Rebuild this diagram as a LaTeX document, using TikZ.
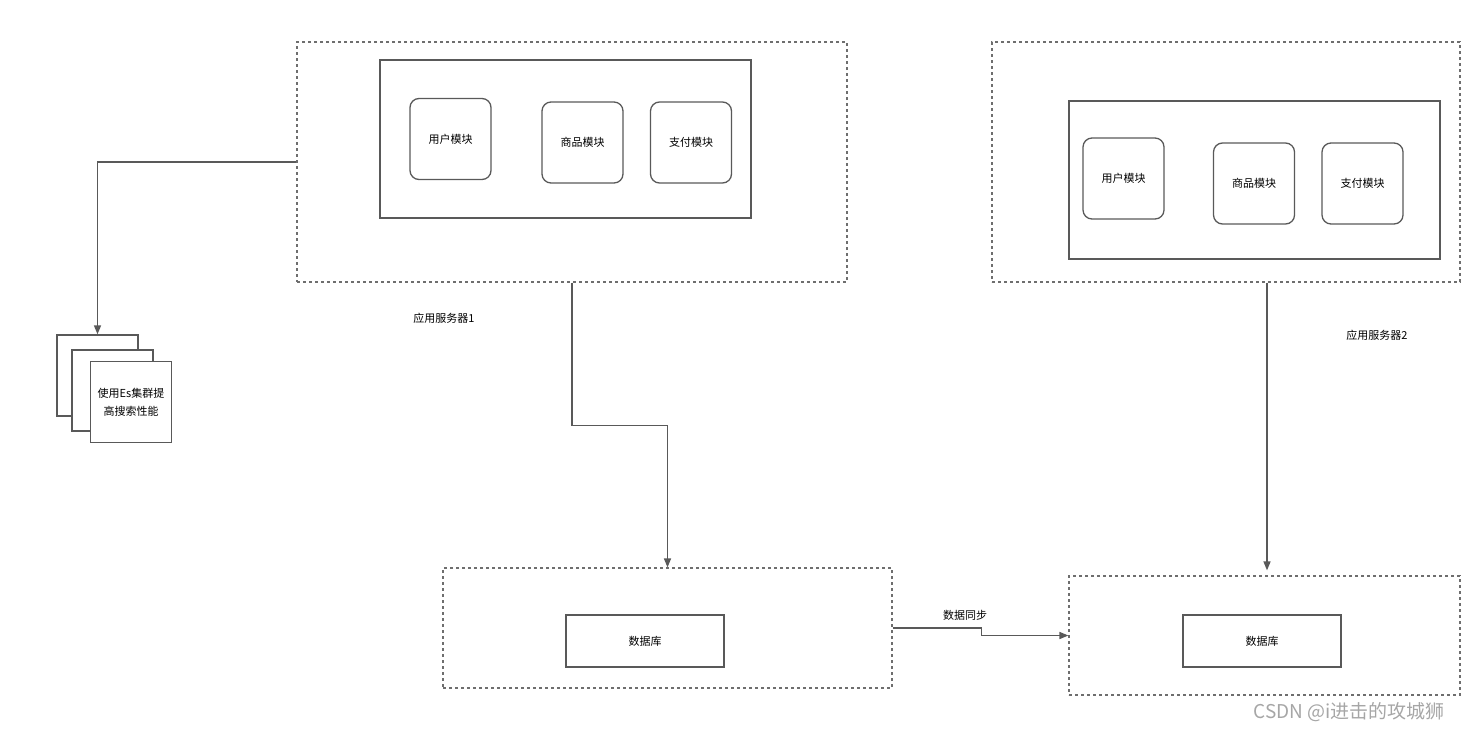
\documentclass[tikz,border=0pt]{standalone}
\usepackage{fontspec}
\setmainfont{Noto Sans CJK SC}
\usetikzlibrary{arrows.meta,positioning,calc}
\definecolor{lnc}{HTML}{595959}
\definecolor{dsc}{HTML}{6E6E6E}
\tikzset{
  srvbox/.style={draw=dsc,line width=1.2pt,dash pattern=on 3pt off 3pt,inner sep=0pt},
  solidbox/.style={draw=lnc,line width=1.3pt,inner sep=0pt},
  modblk/.style={solidbox,rounded corners=9pt,minimum width=81pt,minimum height=81pt,font=\fontsize{11}{13}\selectfont},
  docblk/.style={solidbox,fill=white,minimum width=81pt,minimum height=81pt,align=center,font=\fontsize{11}{18}\selectfont},
  dbblk/.style={solidbox,minimum width=158pt,minimum height=52pt,font=\fontsize{11}{13}\selectfont},
  arr/.style={-{Triangle[length=9pt,width=7pt]},draw=lnc,line width=1.5pt},
  lbl/.style={font=\fontsize{11}{13}\selectfont}
}
\begin{document}
\begin{tikzpicture}[x=1pt,y=-1pt]
  \useasboundingbox (0,0) rectangle (1461,731);
  % Application server 1
  \node[srvbox,minimum width=550pt,minimum height=240pt] (srv1) at (572,162) {};
  \node[solidbox,minimum width=371pt,minimum height=158pt] (inner1) at (565.5,139) {};
  \node[modblk] (user1) at (450.5,139) {用户模块};
  \node[modblk] (goods1) at (582.5,142.5) {商品模块};
  \node[modblk] (pay1) at (691,142.5) {支付模块};
  \node[lbl] (srv1lbl) at (444,318) {应用服务器1};

  % Application server 2
  \node[srvbox,minimum width=468pt,minimum height=240pt] (srv2) at (1226,162) {};
  \node[solidbox,minimum width=371pt,minimum height=158pt] (inner2) at (1254.5,180) {};
  \node[modblk] (user2) at (1123.5,178.5) {用户模块};
  \node[modblk] (goods2) at (1254,183.5) {商品模块};
  \node[modblk] (pay2) at (1362.5,183.5) {支付模块};
  \node[lbl] (srv2lbl) at (1377,335) {应用服务器2};

  % Es cluster stack
  \node[docblk] (doc1) at (97.5,375.5) {};
  \node[docblk] (doc2) at (112.5,390.5) {};
  \node[docblk] (doc3) at (131,402) {使用Es集群提\\高搜索性能};

  % Databases
  \node[srvbox,minimum width=449pt,minimum height=120pt] (db1box) at (667.5,628) {};
  \node[dbblk] (db1) at (645,641) {数据库};
  \node[srvbox,minimum width=391pt,minimum height=119pt] (db2box) at (1264.5,635.5) {};
  \node[dbblk] (db2) at (1262,641) {数据库};

  % Connections
  \draw[arr] (srv1.west) -| (doc1.north);
  \draw[arr] (srv1.south) -- ++(0,143) -| (db1box.north);
  \draw[arr,shorten >=5pt] ($(srv2.south)+(41,0)$) -- ($(db2box.north)+(2.5,0)$);
  \draw[arr] (db1box.east) -- ++(89,0) |- (db2box.west);
  \node[lbl] (synclbl) at (965,615) {数据同步};

  % Watermark
  \node[text=gray!70,font=\fontsize{19}{21}\selectfont] (mark) at (1349,712) {CSDN @i进击的攻城狮};
\end{tikzpicture}
\end{document}
